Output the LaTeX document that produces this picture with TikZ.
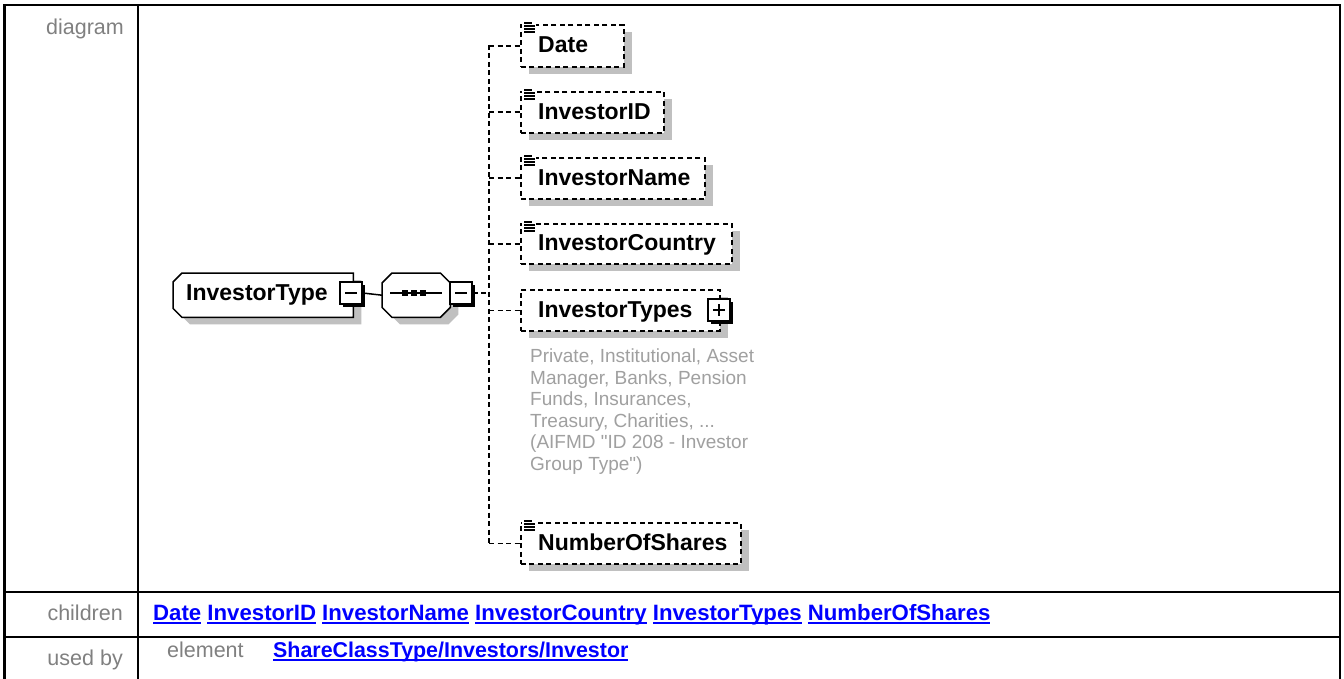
\documentclass[tikz,border=0pt]{standalone}
\usepackage{fontspec}
\setmainfont{Liberation Sans}
\newfontfamily\descfont{Liberation Sans}
\usetikzlibrary{shadows,calc}
\definecolor{shadowgray}{HTML}{C0C0C0}
\definecolor{labelgray}{HTML}{808080}
\definecolor{descgray}{HTML}{A0A0A0}
\definecolor{linkblue}{HTML}{0000FF}
\newsavebox\ulbox
\newcommand\ulink[1]{\sbox\ulbox{#1}\rlap{\rule[-3.6pt]{\wd\ulbox}{1.8pt}}\usebox\ulbox}
\begin{document}
\begin{tikzpicture}[x=1pt,y=-1pt,
  tableline/.style={line width=2.6pt,line cap=rect},
  rowlabel/.style={anchor=base east,text=labelgray,inner sep=0,font=\fontsize{21.5}{24}\selectfont},
  linkstyle/.style={anchor=base west,text=linkblue,inner sep=0,font=\bfseries\fontsize{22.2}{24}\selectfont},
  ename/.style={anchor=base west,inner sep=0,font=\bfseries\fontsize{23}{26}\selectfont},
  gshadow/.style={drop shadow={opacity=1,fill=shadowgray,shadow xshift=8pt,shadow yshift=-7pt}},
  childbox/.style={rectangle,anchor=north west,inner sep=0,fill=white,draw=black,line width=1.8pt,
    dash pattern=on 5pt off 3.5pt,gshadow},
  solidshape/.style={fill=white,draw=black,line width=1.5pt,line join=miter,gshadow},
  frame/.style={rectangle,inner sep=0,anchor=north west},
  button/.style={rectangle,draw=black,fill=white,line width=1.4pt,minimum size=22pt,inner sep=0,
    drop shadow={opacity=1,fill=black,shadow xshift=2.5pt,shadow yshift=-2.5pt}},
  minusbtn/.style={button,path picture={\draw[line width=1.5pt]
    ([xshift=5pt]path picture bounding box.west) -- ([xshift=-5pt]path picture bounding box.east);}},
  plusbtn/.style={button,path picture={\draw[line width=1.5pt]
    ([xshift=5pt]path picture bounding box.west) -- ([xshift=-5pt]path picture bounding box.east)
    ([yshift=-5pt]path picture bounding box.north) -- ([yshift=5pt]path picture bounding box.south);}},
  dashline/.style={line width=1.8pt,dash pattern=on 5pt off 3.5pt},
  iconline/.style={line width=1.2pt}
]
\useasboundingbox (0,0) rectangle (1344,679);
\fill[white] (0,0) rectangle (1344,679);

% ---------- table ----------
\draw[tableline] (4.5,700) -- (4.5,5) -- (1340,5) -- (1340,700);
\draw[tableline] (138,5) -- (138,700);
\draw[tableline] (4.5,592) -- (1340,592);
\draw[tableline] (4.5,637) -- (1340,637);

\node[rowlabel] (lblDiagram) at (124,35) {diagram};
\node[rowlabel] (lblChildren) at (123,620) {children};
\node[rowlabel] (lblUsedBy) at (123,665) {used by};
\node[anchor=base west,text=labelgray,inner sep=0,font=\fontsize{21.5}{24}\selectfont] (lblElement) at (167,657) {element};
\node[linkstyle] (childLinks) at (153,620) {\ulink{Date} \ulink{InvestorID} \ulink{InvestorName} \ulink{InvestorCountry} \ulink{InvestorTypes} \ulink{NumberOfShares}};
\node[linkstyle,font=\bfseries\fontsize{21.4}{24}\selectfont] (usedByLink) at (273,657) {\ulink{ShareClassType/Investors/Investor}};

% ---------- InvestorType element ----------
\node[frame,minimum width=180pt,minimum height=44pt] (itype) at (173,273) {};
\draw[solidshape] ([xshift=9pt]itype.north west) -- (itype.north east) -- (itype.south east)
  -- ([xshift=9pt]itype.south west) -- ([yshift=9pt]itype.south west) -- ([yshift=-9pt]itype.north west) -- cycle;
\node[ename] (itypeT) at (186,300) {InvestorType};

% ---------- sequence compositor ----------
\node[frame,minimum width=68pt,minimum height=44pt] (seq) at (382,273) {};
\draw[solidshape] ([xshift=10pt]seq.north west) -- ([xshift=-10pt]seq.north east) -- ([yshift=-10pt]seq.north east)
  -- ([yshift=10pt]seq.south east) -- ([xshift=-10pt]seq.south east) -- ([xshift=10pt]seq.south west)
  -- ([yshift=10pt]seq.south west) -- ([yshift=-10pt]seq.north west) -- cycle;
\draw[line width=1.4pt] (390,293) -- (442,293);
\foreach \cx in {405,414,423} \fill (\cx-2.8,290.2) rectangle (\cx+2.8,295.8);

% ---------- children ----------
\node[childbox,minimum width=103pt,minimum height=42pt] (date) at (520,24) {};
\node[childbox,minimum width=143pt,minimum height=41pt] (invid) at (520,91) {};
\node[childbox,minimum width=184pt,minimum height=41pt] (invname) at (520,157) {};
\node[childbox,minimum width=211pt,minimum height=40pt] (invcountry) at (520,223) {};
\node[childbox,minimum width=199pt,minimum height=41pt] (invtypes) at (520,289) {};
\node[childbox,minimum width=220pt,minimum height=41pt] (numshares) at (520,522) {};

\node[ename] (dateT) at (538,53) {Date};
\node[ename] (invidT) at (538,119.5) {InvestorID};
\node[ename] (invnameT) at (538,185.5) {InvestorName};
\node[ename] (invcountryT) at (538,251) {InvestorCountry};
\node[ename] (invtypesT) at (538,317.5) {InvestorTypes};
\node[ename] (numsharesT) at (538,550.5) {NumberOfShares};

% simple-content icons
\foreach \b in {date,invid,invname,invcountry,numshares}{
  \fill[white] ($(\b.north west)+(1.5,-3)$) rectangle ($(\b.north west)+(16,10)$);
  \draw[iconline] ($(\b.north west)+(4,-1)$) -- ++(8,0);
  \draw[iconline] ($(\b.north west)+(4,2)$) -- ++(11,0);
  \draw[iconline] ($(\b.north west)+(4,5)$) -- ++(11,0);
  \draw[iconline] ($(\b.north west)+(4,8)$) -- ++(11,0);
}

\node[anchor=north west,align=left,inner sep=0,text=descgray,font=\descfont\fontsize{19}{21.6}\selectfont] (desc) at (530,348.5)
  {Private, Institutional, Asset\\Manager, Banks, Pension\\Funds, Insurances,\\Treasury, Charities, ...\\(AIFMD "ID 208 - Investor\\Group Type")};

% ---------- connectors ----------
\coordinate (busTop) at (489,45);
\coordinate (busBot) at (489,543);
\draw[dashline] (busTop) -- (busBot);
\foreach \b in {date,invid,invname,invcountry,invtypes,numshares}
  \draw[dashline] (\b.west -| busTop) -- (\b.west);

% ---------- buttons ----------
\node[minusbtn] (itypeBtn) at (351,293) {};
\node[minusbtn] (seqBtn) at (461,293) {};
\node[plusbtn] (invtypesBtn) at (719,310) {};

\draw[line width=1.5pt] (itypeBtn.east) -- (seq.west);
\draw[dashline] (seqBtn.east) -- (seqBtn.east -| busTop);
\end{tikzpicture}
\end{document}
